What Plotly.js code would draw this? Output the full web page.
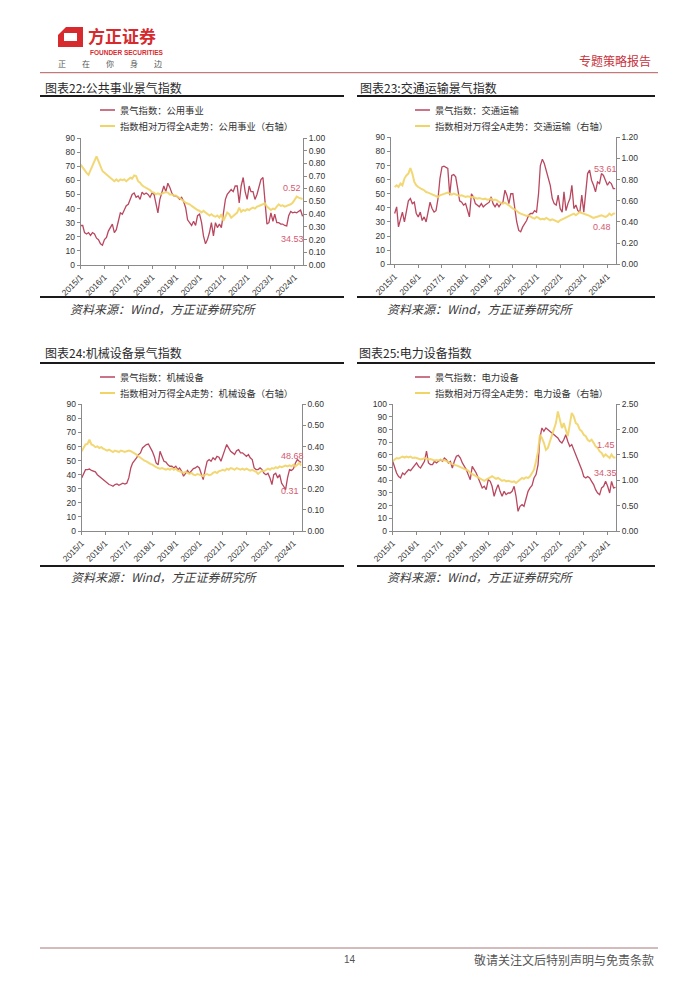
<!DOCTYPE html>
<html>
<head>
<meta charset="utf-8">
<script src="https://cdn.plot.ly/plotly-3.0.1.min.js"></script>
<style>body{margin:0;background:#fff;}</style>
</head>
<body>
<div id="page" style="width:700px;height:990px;"></div>
<script>
// Monthly data, 2015/1 - 2024/5 (113 points per series)
const utilIndex = [28,28,23,22,23,21,23,22,19,18,15,14,
  18,19.5,24,26.5,29,23,25,31,37,36,39,42,
  43,46.5,50,51,48,49,46.5,51.6,50,51,50,48,
  51,50,44,37,46.5,52,56,52,58,55,51,49,
  49,48,46.5,48,45,40.6,32,30,28,31,28,35,
  36,30,20.6,15,18,23,30,20.6,30,26.5,29,26.5,
  35,46.5,50,52,53.5,52,56,56,44,56,62,52,
  46.5,56,52,52,46.5,50,56,60.5,62,44,29,30,
  37,31,36,30,30,29,29,28,27.7,35,38,37,
  37.5,37,38,39,34.53];
const utilRel = [0.79,0.765,0.75,0.725,0.71,0.75,0.79,0.817,0.856,0.817,0.778,0.74,
  0.726,0.713,0.70,0.687,0.674,0.66,0.674,0.66,0.674,0.668,0.674,0.66,
  0.674,0.687,0.68,0.705,0.70,0.66,0.648,0.627,0.616,0.608,0.595,0.59,
  0.574,0.57,0.556,0.564,0.556,0.564,0.57,0.574,0.57,0.556,0.556,0.548,
  0.548,0.538,0.53,0.517,0.504,0.49,0.486,0.478,0.465,0.452,0.444,0.433,
  0.426,0.413,0.426,0.413,0.40,0.39,0.40,0.386,0.38,0.39,0.373,0.40,
  0.347,0.386,0.413,0.40,0.373,0.386,0.40,0.413,0.452,0.418,0.433,0.426,
  0.439,0.433,0.444,0.452,0.444,0.46,0.465,0.47,0.478,0.486,0.46,0.444,
  0.433,0.444,0.439,0.46,0.478,0.465,0.47,0.46,0.465,0.47,0.478,0.49,
  0.517,0.538,0.53,0.522,0.52];

const transIndex = [36,40.7,26.5,31,37,30,37,45,46.6,43,44,36,
  33.6,37,31,33.6,30,37,44,39.5,37,38,46.6,60.8,
  69,69.5,69,68,49,63,63.6,62,53.7,45,44,42,
  43,37,33.6,50,47.8,43,42,40.7,43,40.7,42,43,
  44,47.8,43,40.7,43,40.7,43,44,52.5,49,43,50,
  50,39.5,30,24,23,26.5,28.8,31,34.8,36,36,38,
  37,50,70,74.5,71.4,66.7,60.8,56,46.6,43,42,49,
  39.5,37,51.3,38,43,46.6,56,39.5,42,38,37,49,
  37,53.7,64.3,66.7,59.6,56,51.3,58.4,57.2,64.3,63,59.6,
  56,58.4,57.2,53.7,53.61];
const transRel = [0.73,0.746,0.73,0.762,0.746,0.81,0.84,0.857,0.91,0.857,0.778,0.746,
  0.73,0.715,0.709,0.70,0.683,0.677,0.668,0.658,0.652,0.646,0.636,0.652,
  0.658,0.668,0.674,0.677,0.668,0.658,0.668,0.658,0.652,0.646,0.652,0.646,
  0.636,0.643,0.636,0.633,0.636,0.627,0.62,0.627,0.62,0.614,0.62,0.611,
  0.614,0.62,0.605,0.611,0.605,0.589,0.583,0.573,0.583,0.573,0.557,0.542,
  0.526,0.52,0.50,0.488,0.479,0.469,0.463,0.457,0.463,0.447,0.438,0.431,
  0.447,0.438,0.425,0.431,0.425,0.438,0.425,0.416,0.425,0.416,0.406,0.40,
  0.416,0.425,0.438,0.447,0.457,0.463,0.469,0.479,0.463,0.479,0.494,0.485,
  0.479,0.469,0.463,0.457,0.447,0.438,0.444,0.447,0.457,0.463,0.457,0.447,
  0.457,0.479,0.463,0.479,0.48];

const machIndex = [37.7,41,43.6,43.6,44,43,42.4,42,40,38.9,38,36.5,
  35.3,34,33,32.5,31.8,33,33.4,32.5,33.4,34,33.4,34,
  37.7,44.8,48.3,50.7,52,54.3,55.5,59,60.2,61.4,61.8,59.5,
  56.6,53,48.3,47,56.6,53,49.5,49,47,46,46,44.8,
  46,43.6,44.8,42.4,38.9,41,43,41,42.4,44.3,44.8,46,
  44.8,40,36.5,43.6,49.5,50.7,49.5,52,50.7,53,52.4,49.5,
  53,57.8,61.4,59,56.6,55.5,54.3,57,57.8,55.5,55.5,54.3,
  53,54.3,52,50.7,44.8,43.6,43.6,44.8,43.6,41,40,41,
  37.7,33,40,41,37.7,40,34,31.8,29.4,37.7,43.6,43,
  44.3,48.3,50.7,49.5,48.68];
const machRel = [0.378,0.393,0.41,0.412,0.433,0.41,0.406,0.397,0.401,0.393,0.397,0.39,
  0.385,0.381,0.385,0.378,0.374,0.381,0.378,0.374,0.381,0.378,0.374,0.378,
  0.381,0.378,0.374,0.37,0.362,0.354,0.346,0.338,0.333,0.33,0.322,0.318,
  0.314,0.306,0.302,0.298,0.295,0.298,0.295,0.29,0.295,0.29,0.298,0.29,
  0.295,0.286,0.283,0.28,0.275,0.28,0.275,0.27,0.275,0.267,0.264,0.27,
  0.267,0.264,0.259,0.267,0.27,0.264,0.267,0.275,0.28,0.275,0.283,0.286,
  0.29,0.286,0.295,0.29,0.298,0.295,0.29,0.298,0.295,0.29,0.295,0.29,
  0.295,0.29,0.286,0.29,0.286,0.28,0.27,0.28,0.286,0.283,0.29,0.295,
  0.29,0.298,0.295,0.302,0.298,0.306,0.302,0.306,0.31,0.306,0.311,0.306,
  0.314,0.306,0.314,0.322,0.31];

const powerIndex = [55,49.7,45.8,43,41.8,45.8,44.5,46.6,48.4,47.6,49.7,52.4,
  53.7,51,49.7,52.4,55,63,53.7,52.4,52.4,55,53.7,55,
  56.3,55,57.6,56.3,53.7,55,49.7,55,59,59.7,57.6,53.7,
  51,48.4,44.5,40.5,51,48.4,45.8,41.8,37.9,34,35.3,32.6,
  40.5,39.2,35.3,27.4,32.6,36.6,31.3,27.4,31.3,28.7,30,30,
  31.3,35.3,27.4,15.5,19.5,20.8,19.5,26,31.3,34,36,41.8,
  44.5,52.4,73.4,81.3,78.7,81.3,80,78.7,77.4,76,74.7,73.4,
  70.8,69.5,72,76,70.8,66.8,68.2,64.2,61.6,57.6,52.4,48.4,
  43,41.8,43,41.8,39.2,36.6,32.6,30,28.7,34,35.3,39.2,
  35.3,30,39.2,34,34.35];
const powerRel = [1.375,1.41,1.44,1.43,1.45,1.47,1.45,1.47,1.45,1.467,1.44,1.45,
  1.44,1.43,1.41,1.42,1.44,1.43,1.41,1.42,1.41,1.39,1.40,1.39,
  1.41,1.39,1.40,1.375,1.36,1.34,1.32,1.31,1.30,1.28,1.26,1.24,
  1.23,1.21,1.19,1.145,1.125,1.10,1.08,1.06,1.046,1.013,0.99,1.013,
  1.046,1.06,1.08,1.06,1.03,1.046,1.013,0.99,1.006,0.98,0.99,0.98,
  0.967,0.98,0.947,0.98,1.013,1.046,1.03,1.06,1.046,1.08,1.145,1.21,
  1.375,1.57,1.90,1.835,1.74,1.60,1.64,1.77,1.90,2.03,2.13,2.36,
  2.16,2.03,2.13,2.0,1.87,2.10,2.33,2.26,2.13,2.10,2.0,1.97,
  1.90,1.87,1.80,1.77,1.80,1.74,1.67,1.64,1.57,1.54,1.47,1.51,
  1.47,1.44,1.51,1.45,1.45];

// Text
const chartTitles = ['图表22:公共事业景气指数', '图表23:交通运输景气指数', '图表24:机械设备景气指数', '图表25:电力设备指数'];
const sectors = ['公用事业', '交通运输', '机械设备', '电力设备'];
const endLabels = [['0.52', '34.53'], ['53.61', '0.48'], ['48.68', '0.31'], ['1.45', '34.35']];
const tickDates = ['2015-01-01','2016-01-01','2017-01-01','2018-01-01','2019-01-01','2020-01-01','2021-01-01','2022-01-01','2023-01-01','2024-01-01'];
const tickLabels = ['2015/1','2016/1','2017/1','2018/1','2019/1','2020/1','2021/1','2022/1','2023/1','2024/1'];
const sourceText = '资料来源：Wind，方正证券研究所';

// month axis
const months = [];
for (let y = 2015; y <= 2024; y++) {
  for (let m = 1; m <= 12; m++) {
    if (y === 2024 && m > 5) break;
    months.push(y + '-' + String(m).padStart(2, '0') + '-01');
  }
}

const W = 700, H = 990;
const fx = p => p / W;
const fy = p => 1 - p / H;

const RED = '#b9475f';
const YEL = '#f1d466';
const LABEL = '#d45a70';
const CJK = '"Noto Sans CJK SC", sans-serif';
const NUM = '"Liberation Sans", Arial, sans-serif';

// layout of each panel in page pixels
const panels = [
  {idx: utilIndex, rel: utilRel, l: 80.7, r: 303, t: 138, b: 265, x0: '2015-01-01', yMax: 90, yD: 10, y2Max: 1.0, y2D: 0.1,
   head: 43, titleY: 87, lineL: 40, lineR: 344, topLine: 96, botLine: 297, srcX: 68, srcY: 308, legX: 100, legY: 110,
   lab: [[292, 188], [292, 239]]},
  {idx: transIndex, rel: transRel, l: 390.7, r: 615.7, t: 137.3, b: 264.3, x0: '2014-11-01', yMax: 90, yD: 10, y2Max: 1.2, y2D: 0.2,
   head: 358, titleY: 87, lineL: 357, lineR: 655, topLine: 96, botLine: 297, srcX: 385, srcY: 308, legX: 415, legY: 110,
   lab: [[605, 169], [602, 227]]},
  {idx: machIndex, rel: machRel, l: 81.7, r: 301.7, t: 404.3, b: 531, x0: '2015-01-01', yMax: 90, yD: 10, y2Max: 0.6, y2D: 0.1,
   head: 43, titleY: 353, lineL: 40, lineR: 344, topLine: 363, botLine: 566, srcX: 69, srcY: 576, legX: 100, legY: 377,
   lab: [[292, 456], [290, 491]]},
  {idx: powerIndex, rel: powerRel, l: 392.7, r: 616, t: 404.3, b: 531, x0: '2015-01-01', yMax: 100, yD: 10, y2Max: 2.5, y2D: 0.5,
   head: 357, titleY: 353, lineL: 357, lineR: 655, topLine: 363, botLine: 566, srcX: 385, srcY: 576, legX: 415, legY: 377,
   lab: [[606, 445], [605, 473]]}
];

const traces = [];
const shapes = [];
const annotations = [];
const layout = {
  width: W, height: H,
  margin: {l: 0, r: 0, t: 0, b: 0},
  paper_bgcolor: '#fff', plot_bgcolor: 'rgba(0,0,0,0)',
  showlegend: false,
  font: {family: NUM, color: '#333'}
};

function axisBase() {
  return {
    showline: true, linecolor: '#8a8a8a', linewidth: 1,
    ticks: 'outside', ticklen: 3, tickcolor: '#8a8a8a',
    showgrid: false, zeroline: false, fixedrange: true,
    tickfont: {family: NUM, size: 8.5, color: '#333'}
  };
}

panels.forEach((p, i) => {
  const k = i + 1;
  const xa = 'x' + k, ya = 'y' + (2 * k - 1), yb = 'y' + (2 * k);
  const xDom = [fx(p.l), fx(p.r)];
  const yDom = [fy(p.b), fy(p.t)];

  layout['xaxis' + k] = Object.assign(axisBase(), {
    type: 'date', domain: xDom, anchor: ya,
    range: [p.x0, '2024-05-08'],
    tickmode: 'array', tickvals: tickDates, ticktext: tickLabels,
    tickangle: -45, tickfont: {family: NUM, size: 8.5, color: '#333'}
  });
  layout['yaxis' + (2 * k - 1)] = Object.assign(axisBase(), {
    domain: yDom, anchor: xa, range: [0, p.yMax], dtick: p.yD, tick0: 0
  });
  layout['yaxis' + (2 * k)] = Object.assign(axisBase(), {
    domain: yDom, anchor: xa, overlaying: ya, side: 'right',
    range: [0, p.y2Max], dtick: p.y2D, tick0: 0, tickformat: '.2f'
  });

  // yellow relative line drawn first, red index line on top
  traces.push({x: months, y: p.rel, xaxis: xa, yaxis: yb, type: 'scatter', mode: 'lines',
    name: '指数相对万得全A走势：' + sectors[i] + '（右轴）', line: {color: YEL, width: 2}, opacity: 0.9});
  traces.push({x: months, y: p.idx, xaxis: xa, yaxis: ya, type: 'scatter', mode: 'lines',
    name: '景气指数：' + sectors[i], line: {color: RED, width: 1.3}});

  // title + rules
  annotations.push({text: chartTitles[i], xref: 'paper', yref: 'paper', x: fx(p.head), y: fy(p.titleY),
    xanchor: 'left', yanchor: 'middle', showarrow: false, font: {family: CJK, size: 12, color: '#2a2a2a'}});
  shapes.push({type: 'line', xref: 'paper', yref: 'paper', x0: fx(p.lineL), x1: fx(p.lineR), y0: fy(p.topLine), y1: fy(p.topLine),
    line: {color: '#1a1a1a', width: 2}});
  shapes.push({type: 'line', xref: 'paper', yref: 'paper', x0: fx(p.lineL), x1: fx(p.lineR), y0: fy(p.botLine), y1: fy(p.botLine),
    line: {color: '#1a1a1a', width: 2}});
  annotations.push({text: '<i>' + sourceText + '</i>', xref: 'paper', yref: 'paper', x: fx(p.srcX), y: fy(p.srcY),
    xanchor: 'left', yanchor: 'middle', showarrow: false, font: {family: CJK, size: 12, color: '#3a3a3a'}});

  // legend
  const leg = [[RED, 1.5, '景气指数：' + sectors[i]], [YEL, 2, '指数相对万得全A走势：' + sectors[i] + '（右轴）']];
  leg.forEach((e, j) => {
    const yy = p.legY + j * 16;
    shapes.push({type: 'line', xref: 'paper', yref: 'paper', x0: fx(p.legX), x1: fx(p.legX + 15), y0: fy(yy), y1: fy(yy),
      line: {color: e[0], width: e[1]}});
    annotations.push({text: e[2], xref: 'paper', yref: 'paper', x: fx(p.legX + 18), y: fy(yy),
      xanchor: 'left', yanchor: 'middle', showarrow: false, font: {family: CJK, size: 9.3, color: '#333'}});
  });

  // end value labels
  p.lab.forEach((pos, j) => {
    annotations.push({text: endLabels[i][j], xref: 'paper', yref: 'paper', x: fx(pos[0]), y: fy(pos[1]),
      xanchor: 'center', yanchor: 'middle', showarrow: false, font: {family: NUM, size: 9, color: LABEL}});
  });
});

// page header
shapes.push({type: 'path', xref: 'paper', yref: 'paper', fillrule: 'evenodd',
  path: 'M ' + fx(66) + ' ' + fy(27) + ' L ' + fx(83) + ' ' + fy(27) + ' L ' + fx(83) + ' ' + fy(47) + ' L ' + fx(58) + ' ' + fy(47) +
        ' L ' + fx(58) + ' ' + fy(35) + ' Z M ' + fx(64) + ' ' + fy(33) + ' L ' + fx(77) + ' ' + fy(33) + ' L ' + fx(77) + ' ' + fy(41) +
        ' L ' + fx(64) + ' ' + fy(41) + ' Z',
  fillcolor: '#d62a2e', line: {width: 0}});
annotations.push({text: '<b>方正证券</b>', xref: 'paper', yref: 'paper', x: fx(87), y: fy(35.5), xanchor: 'left', yanchor: 'middle',
  showarrow: false, borderpad: 0, font: {family: CJK, size: 17, color: '#d62a2e'}});
annotations.push({text: '<b>FOUNDER SECURITIES</b>', xref: 'paper', yref: 'paper', x: fx(89), y: fy(52), xanchor: 'left', yanchor: 'middle',
  showarrow: false, borderpad: 0, font: {family: NUM, size: 6.5, color: '#d62a2e'}});
annotations.push({text: '正　　在　　你　　身　　边', xref: 'paper', yref: 'paper', x: fx(57), y: fy(64), xanchor: 'left', yanchor: 'middle',
  showarrow: false, borderpad: 0, font: {family: CJK, size: 8, color: '#555'}});
annotations.push({text: '专题策略报告', xref: 'paper', yref: 'paper', x: fx(653), y: fy(61), xanchor: 'right', yanchor: 'middle',
  showarrow: false, font: {family: CJK, size: 12, color: '#c8323c'}});
shapes.push({type: 'line', xref: 'paper', yref: 'paper', x0: fx(40), x1: fx(658), y0: fy(72.7), y1: fy(72.7),
  line: {color: '#b35a5a', width: 1}});

// page footer
shapes.push({type: 'line', xref: 'paper', yref: 'paper', x0: fx(40), x1: fx(658), y0: fy(948), y1: fy(948),
  line: {color: '#a87878', width: 1}});
annotations.push({text: '14', xref: 'paper', yref: 'paper', x: fx(350), y: fy(959), xanchor: 'center', yanchor: 'middle',
  showarrow: false, font: {family: NUM, size: 10, color: '#555'}});
annotations.push({text: '敬请关注文后特别声明与免责条款', xref: 'paper', yref: 'paper', x: fx(656), y: fy(959), xanchor: 'right', yanchor: 'middle',
  showarrow: false, font: {family: CJK, size: 12, color: '#555'}});

layout.shapes = shapes;
layout.annotations = annotations;

Plotly.newPlot('page', traces, layout, {staticPlot: true, displayModeBar: false});
</script>
</body>
</html>
